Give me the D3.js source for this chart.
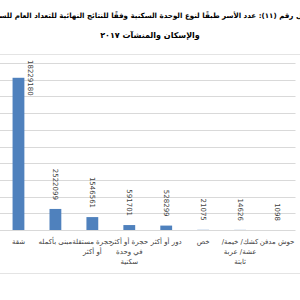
<!DOCTYPE html>
<html>
<head>
<meta charset="utf-8">
<script src="https://cdn.jsdelivr.net/npm/d3@7"></script>
<style>
  html, body { margin: 0; padding: 0; background: #ffffff; overflow: hidden; }
  svg { display: block; font-family: "DejaVu Sans", sans-serif; }
</style>
</head>
<body>
<div id="chart"></div>
<script>
// Data
const categories = [
  'شقة',
  'مبنى بأكمله',
  'حجرة مستقلة أو أكثر',
  'حجرة أو أكثر في وحدة سكنية',
  'دور أو أكثر',
  'خص',
  'كشك/ خيمة/ عشة/ عربة ثابتة',
  'حوش مدفن',
];
// wrapped label lines as they appear under each bar
const categoryLines = [
  ['شقة'],
  ['مبنى بأكمله'],
  ['حجرة مستقلة', 'أو أكثر'],
  ['حجرة أو أكثر', 'في وحدة', 'سكنية'],
  ['دور أو أكثر'],
  ['خص'],
  ['كشك/ خيمة/', 'عشة/ عربة', 'ثابتة'],
  ['حوش مدفن'],
];
const households = [18229180, 2522099, 1546561, 591701, 528299, 21075, 14626, 1098];
const yTicks = [0, 2000000, 4000000, 6000000, 8000000, 10000000, 12000000, 14000000, 16000000, 18000000, 20000000];
const titleLines = [
  'شكل رقم (١١): عدد الأسر طبقًا لنوع الوحدة السكنية وفقًا للنتائج النهائية للتعداد العام للسكان',
  'والإسكان والمنشآت ٢٠١٧',
];

const width = 300;
const height = 300;
const plot = { top: 63, bottom: 230, left: 0, right: 295.5 };
const frameTop = 54;
const frameBottom = 273;

const BAR = '#4f81bd';
const GRID = '#d9d9d9';
const TEXT = '#404040';

const svg = d3
  .select('#chart')
  .append('svg')
  .attr('width', width)
  .attr('height', height);

// outer frame lines
svg
  .selectAll('.frame')
  .data([frameTop, frameBottom])
  .enter()
  .append('line')
  .attr('x1', 0)
  .attr('x2', width)
  .attr('y1', (d) => d + 0.5)
  .attr('y2', (d) => d + 0.5)
  .attr('stroke', '#e4e4e4');

// Scales
const x = d3
  .scaleBand()
  .domain(categories)
  .range([plot.left, plot.right])
  .paddingInner(0.68)
  .paddingOuter(0.34);

const y = d3
  .scaleLinear()
  .domain([0, 20000000])
  .range([plot.bottom, plot.top]);

// Gridlines
svg
  .append('g')
  .selectAll('line')
  .data(yTicks)
  .enter()
  .append('line')
  .attr('x1', plot.left)
  .attr('x2', plot.right)
  .attr('y1', (d) => Math.round(y(d)) + 0.5)
  .attr('y2', (d) => Math.round(y(d)) + 0.5)
  .attr('stroke', GRID)
  .attr('stroke-width', 1);

// Bars
svg
  .selectAll('.bar')
  .data(households)
  .enter()
  .append('rect')
  .attr('class', 'bar')
  .attr('x', (d, i) => x(categories[i]))
  .attr('y', (d) => y(d))
  .attr('width', x.bandwidth())
  .attr('height', (d) => y(0) - y(d))
  .attr('fill', BAR);

// Value labels, rotated
const labels = svg
  .selectAll('.value-label')
  .data(households)
  .enter()
  .append('text')
  .attr('class', 'value-label')
  .attr('font-size', '7px')
  .attr('fill', TEXT)
  .attr('dy', '0.35em')
  .text((d) => d);

labels.each(function (d, i) {
  const len = this.getComputedTextLength();
  const cx = x(categories[i]) + x.bandwidth() / 2;
  const end = y(d) - 9;
  const t = d3.select(this);
  if (end - len < frameTop + 4) {
    // no room above: Excel pushed it beside the bar
    t.attr('text-anchor', 'start')
      .attr('transform', `translate(${cx + x.bandwidth() + 0.5},${frameTop + 6}) rotate(90)`);
  } else {
    t.attr('text-anchor', 'end')
      .attr('transform', `translate(${cx},${end}) rotate(90)`);
  }
});

// Category labels
const catGroups = svg
  .selectAll('.cat')
  .data(categoryLines)
  .enter()
  .append('text')
  .attr('class', 'cat')
  .attr('direction', 'rtl')
  .attr('text-anchor', 'middle')
  .attr('font-size', '7px')
  .attr('fill', TEXT);

catGroups
  .selectAll('tspan')
  .data((d, i) => d.map((line) => ({ line, i })))
  .enter()
  .append('tspan')
  .attr('x', (d) => x(categories[d.i]) + x.bandwidth() / 2)
  .attr('y', (d, j) => 243.5 + j * 10)
  .text((d) => d.line);

// Title (first line is wider than the picture and cut at both sides, as in the source)
svg
  .selectAll('.title')
  .data(titleLines)
  .enter()
  .append('text')
  .attr('class', 'title')
  .attr('direction', 'rtl')
  .attr('text-anchor', 'middle')
  .attr('x', width / 2)
  .attr('y', (d, i) => 18 + i * 20)
  .attr('font-size', (d, i) => (i === 0 ? '7.1px' : '8px'))
  .attr('font-weight', 'bold')
  .attr('fill', '#000000')
  .text((d) => d);
</script>
</body>
</html>
